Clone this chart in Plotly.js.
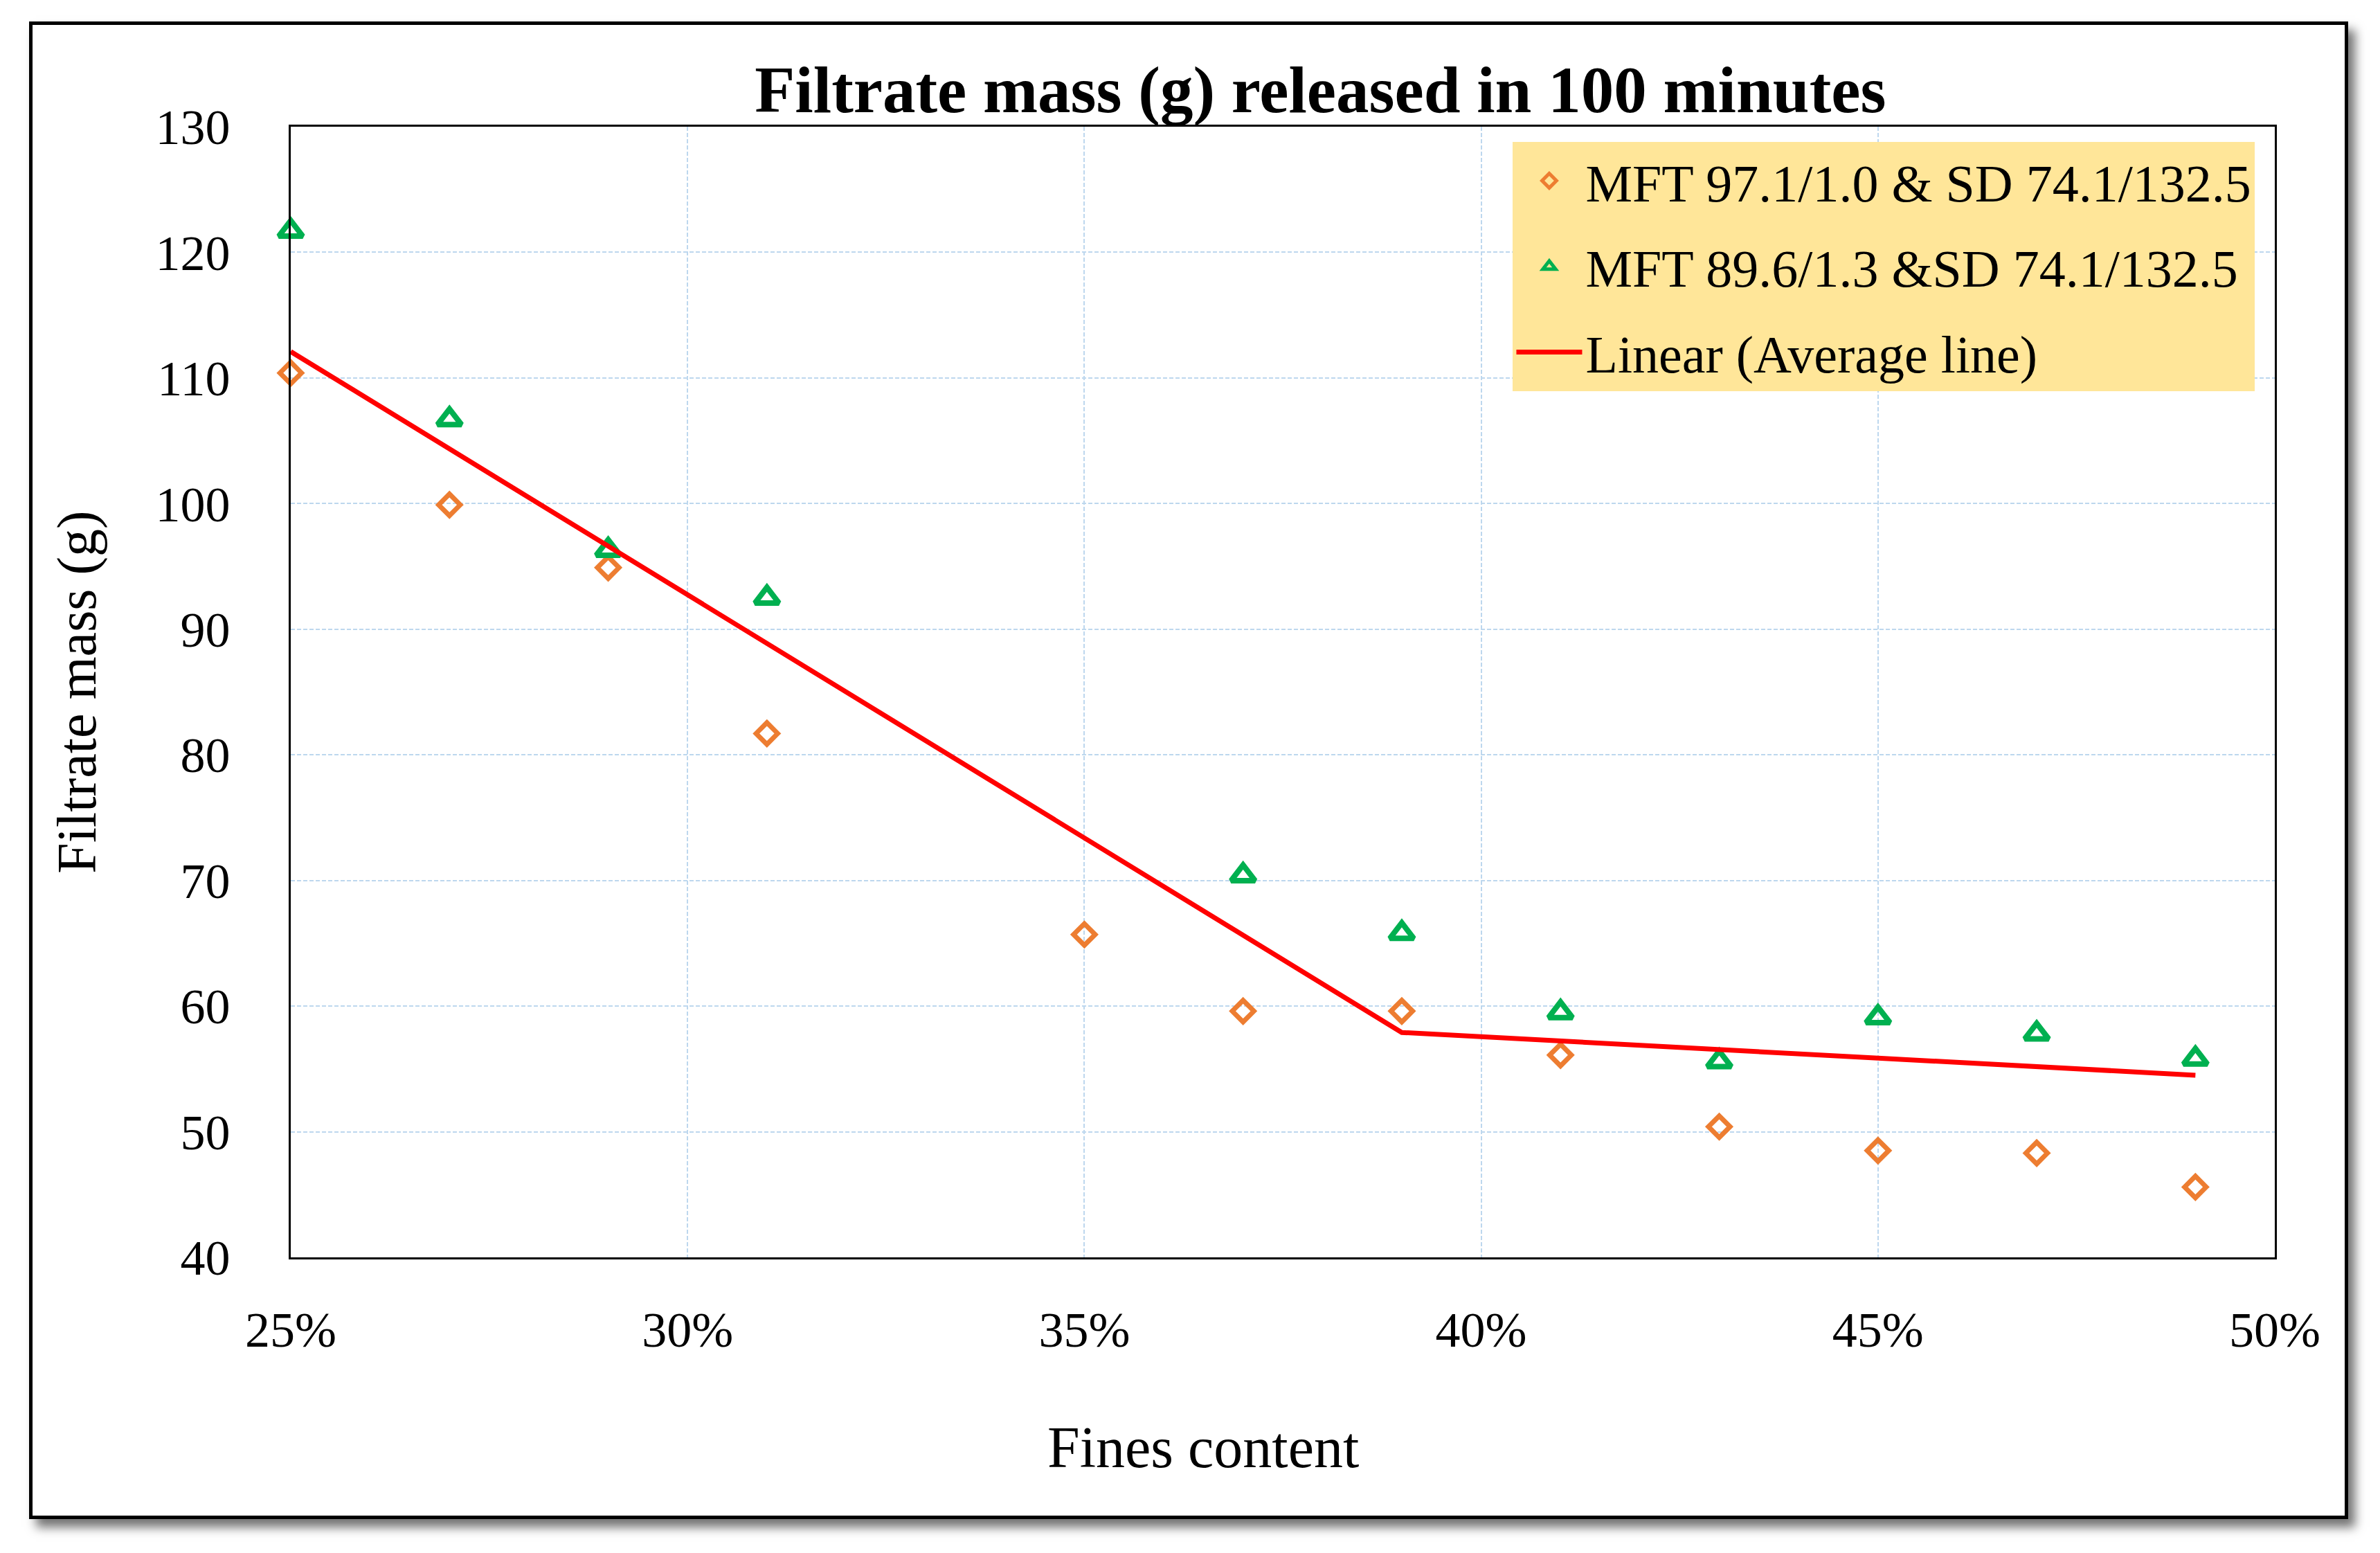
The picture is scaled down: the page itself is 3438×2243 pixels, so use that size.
<!DOCTYPE html>
<html>
<head>
<meta charset="utf-8">
<script src="https://cdn.plot.ly/plotly-3.0.1.min.js"></script>
<style>
  html, body { margin: 0; padding: 0; background: #fff; }
  #frame {
    position: absolute; left: 42px; top: 31px;
    width: 3340px; height: 2153px;
    border: 5px solid #000;
    box-shadow: 10px 12px 14px rgba(0,0,0,0.55);
    background: #fff;
  }
  #plot { width: 3340px; height: 2153px; }
</style>
</head>
<body>
<div id="frame"><div id="plot"></div></div>
<script>
// fines content (fraction) for each test
var finesA = [0.25, 0.27, 0.29, 0.31, 0.35, 0.37, 0.39, 0.41, 0.43, 0.45, 0.47, 0.49]
var massA = [110.4, 99.9, 94.9, 81.7, 65.7, 59.6, 59.6, 56.1, 50.4, 48.5, 48.3, 45.6]

var finesB = [0.25, 0.27, 0.29, 0.31, 0.37, 0.39, 0.41, 0.43, 0.45, 0.47, 0.49]
var massB = [121.7, 106.7, 96.3, 92.5, 70.4, 65.8, 59.5, 55.6, 59.1, 57.8, 55.8]

// average trend line, two linear pieces
var finesAvg = [0.25, 0.39, 0.49]
var massAvg = [112.1, 57.9, 54.5]

var nameA = 'MFT 97.1/1.0 & SD 74.1/132.5'
var nameB = 'MFT 89.6/1.3 &SD 74.1/132.5'
var nameAvg = 'Linear (Average line)'
var xTitle = 'Fines content'

var serif = '"Liberation Serif", "Times New Roman", serif'

var traceA = {
    x: finesA, y: massA, name: nameA, legendgroup: 'a',
    mode: 'markers', type: 'scatter', cliponaxis: false,
    marker: {symbol: 'diamond-open', size: 24, color: '#ED7D31', line: {width: 7, color: '#ED7D31'}}
}
var traceB = {
    x: finesB, y: massB, name: nameB, legendgroup: 'b',
    mode: 'markers', type: 'scatter', cliponaxis: false,
    marker: {symbol: 'triangle-up-open', size: 30, color: '#00B050', line: {width: 8, color: '#00B050'}}
}
var traceAvg = {
    x: finesAvg, y: massAvg, name: nameAvg, legendgroup: 'c',
    mode: 'lines', type: 'scatter', cliponaxis: false,
    line: {color: '#FF0000', width: 7}
}

var layout = {
    width: 3340, height: 2153,
    margin: {l: 373, r: 101, t: 147, b: 373, pad: 0},
    paper_bgcolor: '#fff', plot_bgcolor: '#fff',
    font: {family: serif, size: 72, color: '#000'},
    title: {
        text: '<b>Filtrate mass (g) released in 100 minutes</b>',
        font: {family: serif, size: 95, color: '#000'},
        xref: 'container', yref: 'container',
        x: 0.557, xanchor: 'center', y: 0.957, yanchor: 'middle'
    },
    xaxis: {
        range: [0.25, 0.50], dtick: 0.05, tick0: 0.25, tickformat: '.0%',
        showgrid: true, gridcolor: '#BDD7EE', gridwidth: 2, griddash: '6px,3px',
        zeroline: false, showline: true, linecolor: '#000', linewidth: 3, mirror: true,
        ticks: '', ticklabelstandoff: 40
    },
    yaxis: {
        range: [40, 130], dtick: 10,
        showgrid: true, gridcolor: '#BDD7EE', gridwidth: 2, griddash: '6px,3px',
        zeroline: false, showline: true, linecolor: '#000', linewidth: 3, mirror: true,
        ticks: '', ticklabelstandoff: 70,
        title: {text: 'Filtrate mass (g)', font: {size: 80}, standoff: 60}
    },
    annotations: [{
        text: xTitle, xref: 'paper', yref: 'paper',
        x: 0.46, xanchor: 'center', y: -0.168, yanchor: 'middle',
        showarrow: false, font: {family: serif, size: 84, color: '#000'}
    }],
    showlegend: true,
    legend: {
        x: 0.616, xanchor: 'left', y: 0.9865, yanchor: 'top',
        bgcolor: '#FFE699', borderwidth: 0, itemwidth: 95,
        font: {family: serif, size: 76, color: '#000'},
        traceorder: 'grouped', tracegroupgap: 22
    }
}

Plotly.newPlot('plot', [traceA, traceB, traceAvg], layout, {displayModeBar: false, staticPlot: true})
</script>
</body>
</html>
